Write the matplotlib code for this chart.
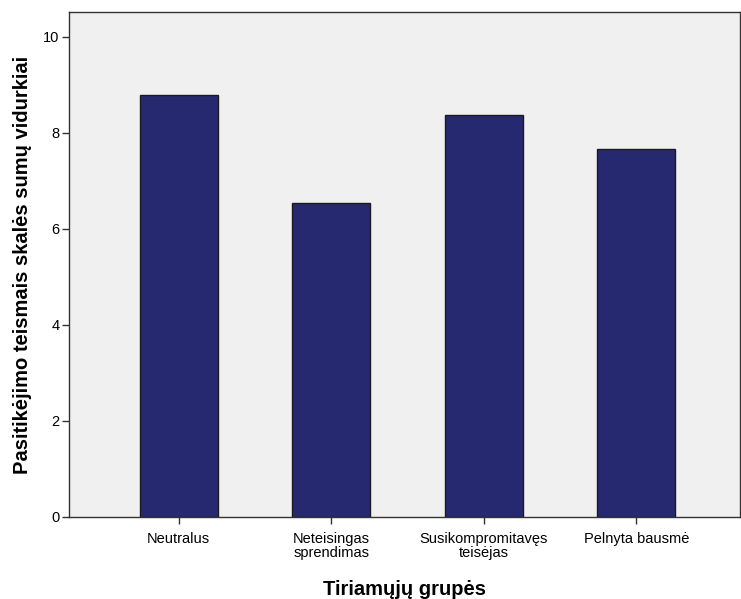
import matplotlib
matplotlib.use("Agg")
import matplotlib.pyplot as plt

categories = ["Neutralus", "Neteisingas\nsprendimas", "Susikompromitavęs\nteisėjas", "Pelnyta bausmė"]
values = [8.79, 6.54, 8.37, 7.67]
yticks = [0, 2, 4, 6, 8, 10]

plt.rcParams['font.family'] = ['Liberation Sans', 'DejaVu Sans']

fig = plt.figure(figsize=(7.41, 5.99), dpi=100)
ax = fig.add_axes([69/741, 82/599, 671/741, 505/599])
ax.set_facecolor("#F0F0F0")
x = list(range(len(categories)))
ax.bar(x, values, width=0.51, color="#262970", edgecolor="#1a1a1a", linewidth=1.0, zorder=3)
ax.set_xlim(-0.72, 3.68)
ax.set_ylim(0, 10.52)
ax.set_yticks(yticks)
ax.set_yticklabels([str(t) for t in yticks], fontsize=10.5)
ax.set_xticks(x)
ax.set_xticklabels(categories, fontsize=10.5, linespacing=1.0)
ax.tick_params(axis='both', direction='out', length=5, width=1, color="#333333")
ax.tick_params(axis='x', pad=6)
ax.tick_params(axis='y', pad=2)
for s in ax.spines.values():
    s.set_color("#333333")
    s.set_linewidth(1.0)
ax.set_ylabel("Pasitikėjimo teismais skalės sumų vidurkiai", fontsize=14.5, fontweight='bold', labelpad=8)
ax.set_xlabel("Tiriamųjų grupės", fontsize=14.5, fontweight='bold', labelpad=14)
fig.savefig("out.png", dpi=100, facecolor="white")
